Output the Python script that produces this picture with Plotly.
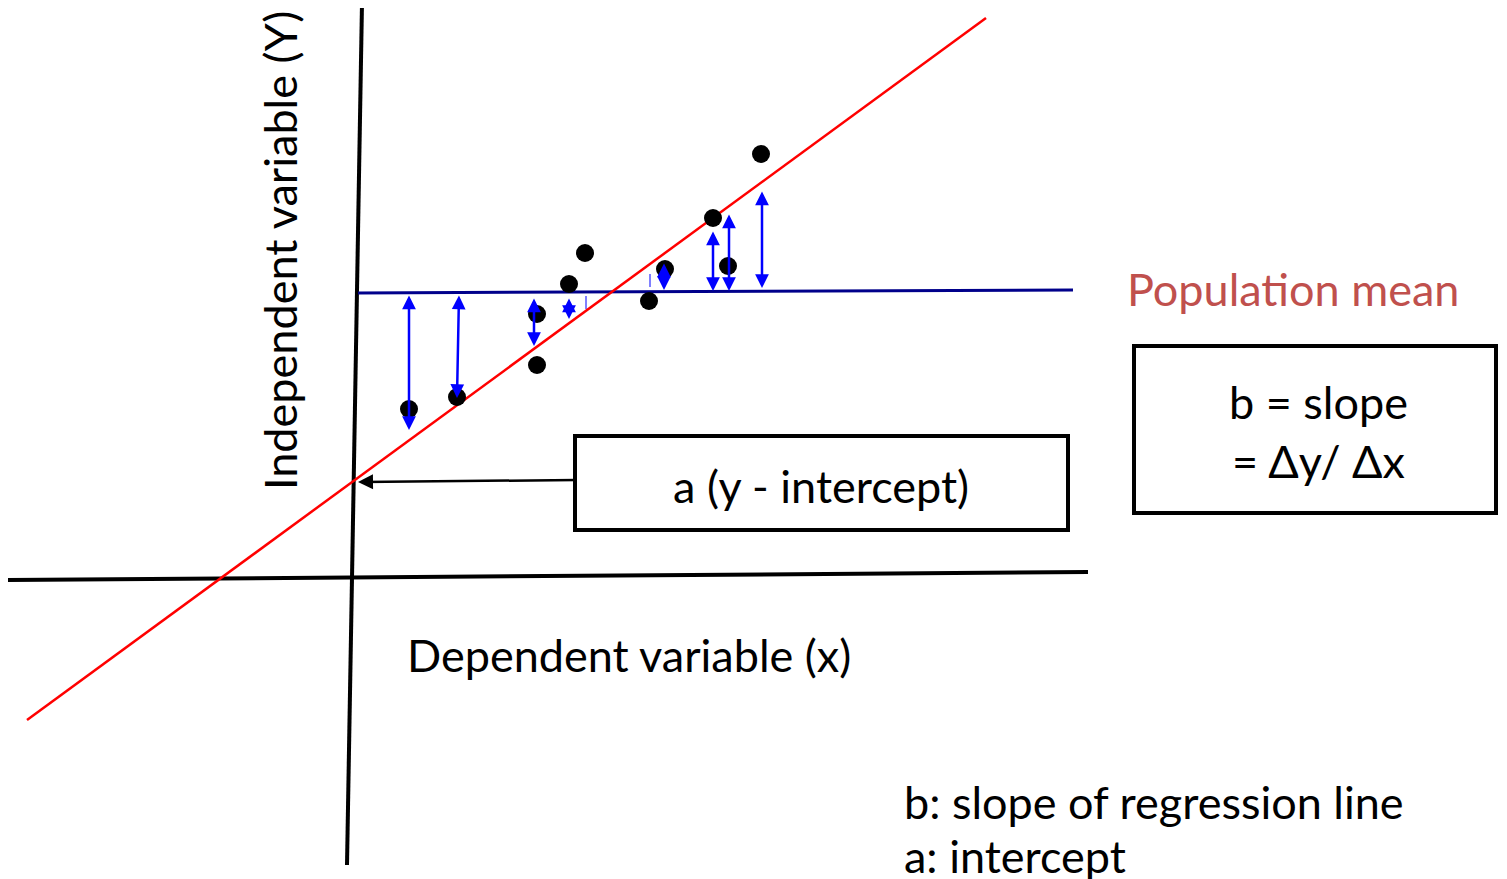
import plotly.graph_objects as go

W, H = 1507, 879
PAD = 8  # default page body margin
FONT = "Lato"

# Data points (diagram pixel coordinates, y grows downward)
pts_x = [409, 457, 537, 537, 569, 585, 649, 665, 713, 728, 761]
pts_y = [409, 397, 314, 365, 284, 253, 301, 269, 218, 266, 154]

# Regression line endpoints
reg_x = [27, 986]
reg_y = [720, 18]

# Population mean line
mean_x = [358, 1073]
mean_y = [293, 290]

# Axes lines
yaxis_line_x = [362, 347]
yaxis_line_y = [3, 865]
xaxis_line_x = [2, 1088]
xaxis_line_y = [580, 572]

# Deviation double arrows: (x_top, y_top, x_bottom, y_bottom)
dev_x0 = [409, 459, 534, 569, 664, 713, 729, 762]
dev_y0 = [294, 294, 297, 297, 262, 230, 213, 190]
dev_x1 = [409, 457, 534, 569, 664, 713, 729, 762]
dev_y1 = [430, 398, 346, 319, 290, 291, 291, 288]

# Small tick marks
tick_x = [586, 650]
tick_y0 = [296, 274]
tick_y1 = [309, 287]

fig = go.Figure()

fig.add_trace(go.Scatter(x=xaxis_line_x, y=xaxis_line_y, mode="lines",
                         line=dict(color="black", width=4), hoverinfo="skip"))
fig.add_trace(go.Scatter(x=yaxis_line_x, y=yaxis_line_y, mode="lines",
                         line=dict(color="black", width=4), hoverinfo="skip"))
fig.add_trace(go.Scatter(x=mean_x, y=mean_y, mode="lines",
                         line=dict(color="#00008B", width=3), hoverinfo="skip"))
for i in range(len(tick_x)):
    fig.add_trace(go.Scatter(x=[tick_x[i], tick_x[i]], y=[tick_y0[i], tick_y1[i]], mode="lines",
                             line=dict(color="#0000FF", width=1), hoverinfo="skip"))
fig.add_trace(go.Scatter(x=reg_x, y=reg_y, mode="lines",
                         line=dict(color="#FF0000", width=2.5), hoverinfo="skip"))
fig.add_trace(go.Scatter(x=pts_x, y=pts_y, mode="markers",
                         marker=dict(color="black", size=18), hoverinfo="skip"))

annotations = []
for i in range(len(dev_x0)):
    annotations.append(dict(x=dev_x1[i], y=dev_y1[i], ax=dev_x0[i], ay=dev_y0[i],
                            xref="x", yref="y", axref="x", ayref="y", text="",
                            showarrow=True, arrowhead=2, arrowside="end+start",
                            arrowsize=1.1, arrowwidth=2.5, arrowcolor="#0000FF"))

# Intercept pointer arrow
annotations.append(dict(x=358, y=482, ax=578, ay=480, xref="x", yref="y", axref="x", ayref="y",
                        text="", showarrow=True, arrowhead=2, arrowsize=1.2, arrowwidth=2.5,
                        arrowcolor="black"))

def txt(x, y, s, size, color="black", xanchor="left", angle=0):
    annotations.append(dict(x=x, y=y, xref="x", yref="y", text=s, showarrow=False,
                            xanchor=xanchor, yanchor="middle", textangle=angle,
                            font=dict(family=FONT, size=size, color=color)))

FS = 45
txt(821, 486, "a (y - intercept)", FS, xanchor="center")
txt(1318, 402, "b = slope", FS, xanchor="center")
txt(1318, 461, "= Δy/ Δx", FS, xanchor="center")
txt(1125, 289, "Population mean", FS, color="#C0504D")
txt(405, 655, "Dependent variable (x)", FS)
txt(280, 251, "Independent variable (Y)", FS, xanchor="center", angle=-90)
txt(902, 802, "b: slope of regression line", FS)
txt(902, 856, "a: intercept", FS)

shapes = [
    dict(type="rect", x0=575, y0=436, x1=1068, y1=530, xref="x", yref="y",
         line=dict(color="black", width=4)),
    dict(type="rect", x0=1134, y0=346, x1=1496, y1=513, xref="x", yref="y",
         line=dict(color="black", width=4)),
]

fig.update_layout(
    width=W - PAD, height=H - PAD, margin=dict(l=0, r=0, t=0, b=0),
    paper_bgcolor="white", plot_bgcolor="white", showlegend=False,
    xaxis=dict(range=[PAD, W], visible=False, fixedrange=True),
    yaxis=dict(range=[H, PAD], visible=False, fixedrange=True),
    annotations=annotations, shapes=shapes,
)

fig.write_html("out.html")
